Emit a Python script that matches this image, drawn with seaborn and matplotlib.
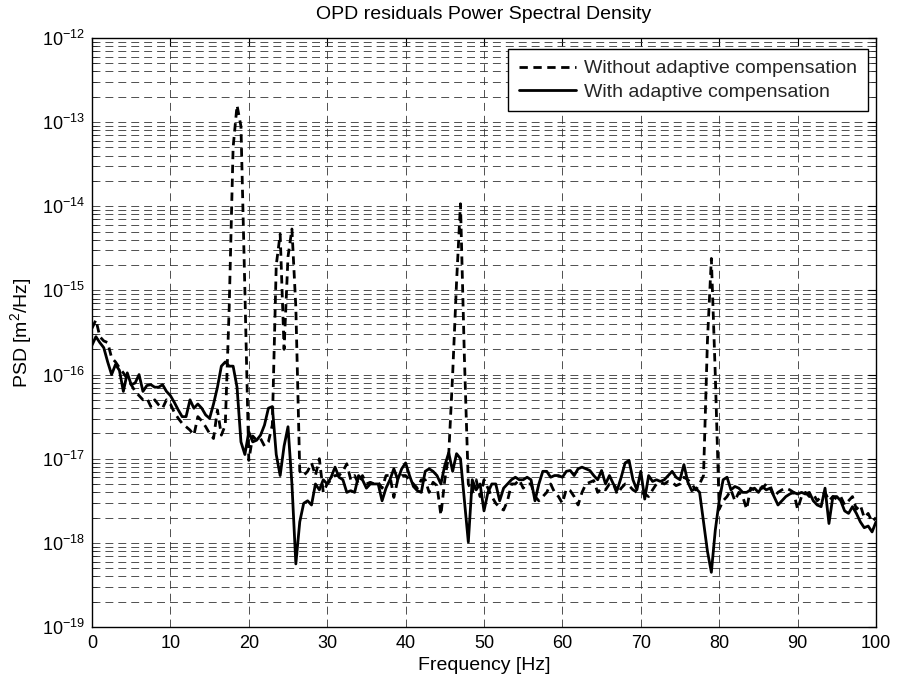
import numpy as np
import pandas as pd
import matplotlib
matplotlib.use("Agg")
import matplotlib.pyplot as plt
import seaborn as sns
from matplotlib.ticker import FixedLocator, NullFormatter, LogFormatterSciNotation

# ---------------- data ----------------
freq_hz = np.arange(0, 100.5, 0.5)

# log10 of PSD [m^2/Hz], one value per 0.5 Hz
log_psd_without = [
    -15.45, -15.35, -15.55, -15.60, -15.62, -15.80, -15.85, -15.92, -15.98, -16.05,
    -16.12, -16.20, -16.25, -16.30, -16.28, -16.38, -16.30, -16.36, -16.40, -16.30,
    -16.35, -16.45, -16.52, -16.58, -16.62, -16.66, -16.72, -16.50, -16.55, -16.62,
    -16.70, -16.76, -16.42, -16.72, -16.60, -15.20, -13.30, -12.80, -13.05, -15.00,
    -17.02, -16.73, -16.78, -16.76, -16.85, -16.80, -16.60, -14.70, -14.33, -15.70,
    -14.60, -14.27, -15.20, -17.15, -17.20, -17.15, -17.05, -17.20, -17.00, -17.40,
    -17.30, -17.25, -17.20, -17.20, -17.15, -17.06, -17.25, -17.20, -17.30, -17.20,
    -17.30, -17.28, -17.30, -17.28, -17.35, -17.20, -17.20, -17.46, -17.25, -17.20,
    -17.20, -17.25, -17.30, -17.35, -17.25, -17.25, -17.40, -17.28, -17.32, -17.67,
    -17.25, -16.95, -16.00, -14.90, -13.97, -15.80, -17.30, -17.40, -17.25, -17.45,
    -17.25, -17.35, -17.45, -17.53, -17.58, -17.61, -17.50, -17.30, -17.30, -17.25,
    -17.35, -17.30, -17.30, -17.45, -17.50, -17.45, -17.40, -17.30, -17.40, -17.45,
    -17.53, -17.36, -17.38, -17.45, -17.55, -17.40, -17.30, -17.28, -17.26, -17.40,
    -17.35, -17.37, -17.30, -17.30, -17.42, -17.35, -17.30, -17.32, -17.37, -17.40,
    -17.40, -17.42, -17.45, -17.37, -17.30, -17.28, -17.30, -17.27, -17.28, -17.32,
    -17.30, -17.22, -17.25, -17.30, -17.37, -17.30, -17.20, -15.60, -14.62, -16.00,
    -17.60, -17.50, -17.45, -17.37, -17.50, -17.40, -17.45, -17.60, -17.35, -17.37,
    -17.35, -17.35, -17.30, -17.32, -17.45, -17.40, -17.37, -17.35, -17.37, -17.40,
    -17.60, -17.45, -17.40, -17.45, -17.42, -17.50, -17.45, -17.40, -17.50, -17.45,
    -17.48, -17.45, -17.55, -17.50, -17.45, -17.60, -17.55, -17.70, -17.65, -17.75,
    -17.70,
]

log_psd_with = [
    -15.65, -15.55, -15.62, -15.68, -15.85, -16.00, -15.88, -15.95, -16.20, -15.98,
    -16.12, -16.10, -16.00, -16.20, -16.13, -16.12, -16.15, -16.15, -16.12, -16.20,
    -16.25, -16.33, -16.42, -16.50, -16.50, -16.30, -16.40, -16.35, -16.40, -16.48,
    -16.52, -16.35, -16.15, -15.90, -15.85, -15.90, -15.90, -16.15, -16.80, -16.95,
    -16.68, -16.80, -16.78, -16.72, -16.60, -16.40, -16.38, -16.95, -17.20, -16.85,
    -16.62, -17.30, -18.25, -17.75, -17.53, -17.50, -17.55, -17.30, -17.37, -17.25,
    -17.30, -17.22, -17.10, -17.22, -17.25, -17.40, -17.38, -17.40, -17.20, -17.25,
    -17.35, -17.30, -17.30, -17.30, -17.50, -17.35, -17.25, -17.12, -17.25, -17.12,
    -17.05, -17.20, -17.33, -17.38, -17.40, -17.15, -17.12, -17.15, -17.20, -17.30,
    -17.08, -16.93, -17.15, -16.94, -17.00, -17.50, -17.99, -17.25, -17.37, -17.30,
    -17.62, -17.40, -17.30, -17.30, -17.50, -17.35, -17.30, -17.25, -17.22, -17.25,
    -17.25, -17.22, -17.25, -17.50, -17.30, -17.15, -17.15, -17.22, -17.20, -17.20,
    -17.22, -17.15, -17.14, -17.20, -17.12, -17.10, -17.12, -17.14, -17.20, -17.25,
    -17.14, -17.30, -17.20, -17.30, -17.37, -17.22, -17.05, -17.02, -17.25, -17.37,
    -17.15, -17.48, -17.20, -17.27, -17.25, -17.27, -17.25, -17.20, -17.15, -17.22,
    -17.25, -17.07, -17.28, -17.38, -17.35, -17.40, -17.75, -18.10, -18.35, -17.85,
    -17.50, -17.25, -17.22, -17.37, -17.33, -17.35, -17.40, -17.40, -17.37, -17.35,
    -17.40, -17.33, -17.37, -17.35, -17.45, -17.55, -17.50, -17.45, -17.42, -17.40,
    -17.42, -17.40, -17.42, -17.40, -17.50, -17.55, -17.57, -17.35, -17.77, -17.45,
    -17.45, -17.50, -17.62, -17.65, -17.57, -17.65, -17.75, -17.82, -17.80, -17.87,
    -17.75,
]

series_names = ["Without adaptive compensation", "With adaptive compensation"]
x_ticks = [0, 10, 20, 30, 40, 50, 60, 70, 80, 90, 100]
y_decades = [-19, -18, -17, -16, -15, -14, -13, -12]
y_minor_mult = [2, 3, 4, 5, 6, 7, 8, 9]

title_text = "OPD residuals Power Spectral Density"
x_label = "Frequency [Hz]"
y_label = "PSD [m$^2$/Hz]"

# ---------------- table for seaborn ----------------
df = pd.concat([
    pd.DataFrame({"freq": freq_hz, "psd": np.power(10.0, log_psd_without), "series": series_names[0]}),
    pd.DataFrame({"freq": freq_hz, "psd": np.power(10.0, log_psd_with), "series": series_names[1]}),
], ignore_index=True)

# ---------------- styling ----------------
sns.set_style("white")
plt.rcParams["font.family"] = ["Liberation Sans", "DejaVu Sans"]
plt.rcParams["mathtext.fontset"] = "custom"
plt.rcParams["mathtext.rm"] = "Liberation Sans"
plt.rcParams["mathtext.it"] = "Liberation Sans:italic"
plt.rcParams["mathtext.bf"] = "Liberation Sans:bold"
plt.rcParams["axes.unicode_minus"] = False

FS_TICK = 13
FS_TEXT = 14

fig = plt.figure(figsize=(8.98, 6.83), dpi=100)
ax = fig.add_axes([0.10245, 0.08199, 0.87305, 0.86237])

sns.lineplot(
    data=df, x="freq", y="psd", style="series", style_order=series_names,
    dashes={series_names[0]: (3, 2), series_names[1]: ""},
    color="black", linewidth=2.0, estimator=None, sort=False,
    legend=False, ax=ax,
)

ax.set_yscale("log")
ax.set_xlim(0, 100)
ax.set_ylim(1e-19, 1e-12)

major_y = [10.0 ** d for d in y_decades]
minor_y = [m * 10.0 ** d for d in y_decades[:-1] for m in y_minor_mult]
ax.yaxis.set_major_locator(FixedLocator(major_y))
ax.yaxis.set_major_formatter(LogFormatterSciNotation(base=10))
ax.yaxis.set_minor_locator(FixedLocator(minor_y))
ax.yaxis.set_minor_formatter(NullFormatter())
ax.xaxis.set_major_locator(FixedLocator(x_ticks))
ax.set_xticklabels([str(t) for t in x_ticks])

grid_ls = (0, (9.5, 6))
ax.grid(True, which="major", axis="both", color="0.2", linewidth=0.6, linestyle=grid_ls)
ax.grid(True, which="minor", axis="y", color="0.2", linewidth=0.6, linestyle=grid_ls)
ax.set_axisbelow(True)

for sp in ax.spines.values():
    sp.set_visible(True)
    sp.set_color("black")
    sp.set_linewidth(1.0)

ax.tick_params(axis="both", which="major", direction="in", length=6, width=0.8,
               top=True, right=True, labelsize=FS_TICK, colors="black")
ax.tick_params(axis="x", which="major", pad=6)
ax.tick_params(axis="y", which="major", pad=5)
ax.tick_params(axis="y", which="minor", direction="in", length=3.5, width=0.6,
               left=True, right=True)

ax.set_title(title_text, fontsize=FS_TEXT, pad=14, color="black")
ax.set_xlabel(x_label, fontsize=FS_TEXT, labelpad=3, color="black")
ax.set_ylabel(y_label, fontsize=FS_TEXT, labelpad=6, color="black")

leg = ax.legend(handles=ax.lines[:2], labels=series_names, loc="upper right",
                bbox_to_anchor=(0.9898, 0.9813), borderaxespad=0.0,
                fontsize=FS_TEXT, handlelength=2.9, frameon=True, fancybox=False,
                framealpha=1.0, edgecolor="black", borderpad=0.55, labelspacing=0.3,
                handletextpad=0.45)
leg.get_frame().set_linewidth(1.0)

fig.savefig("out.png", dpi=100)
